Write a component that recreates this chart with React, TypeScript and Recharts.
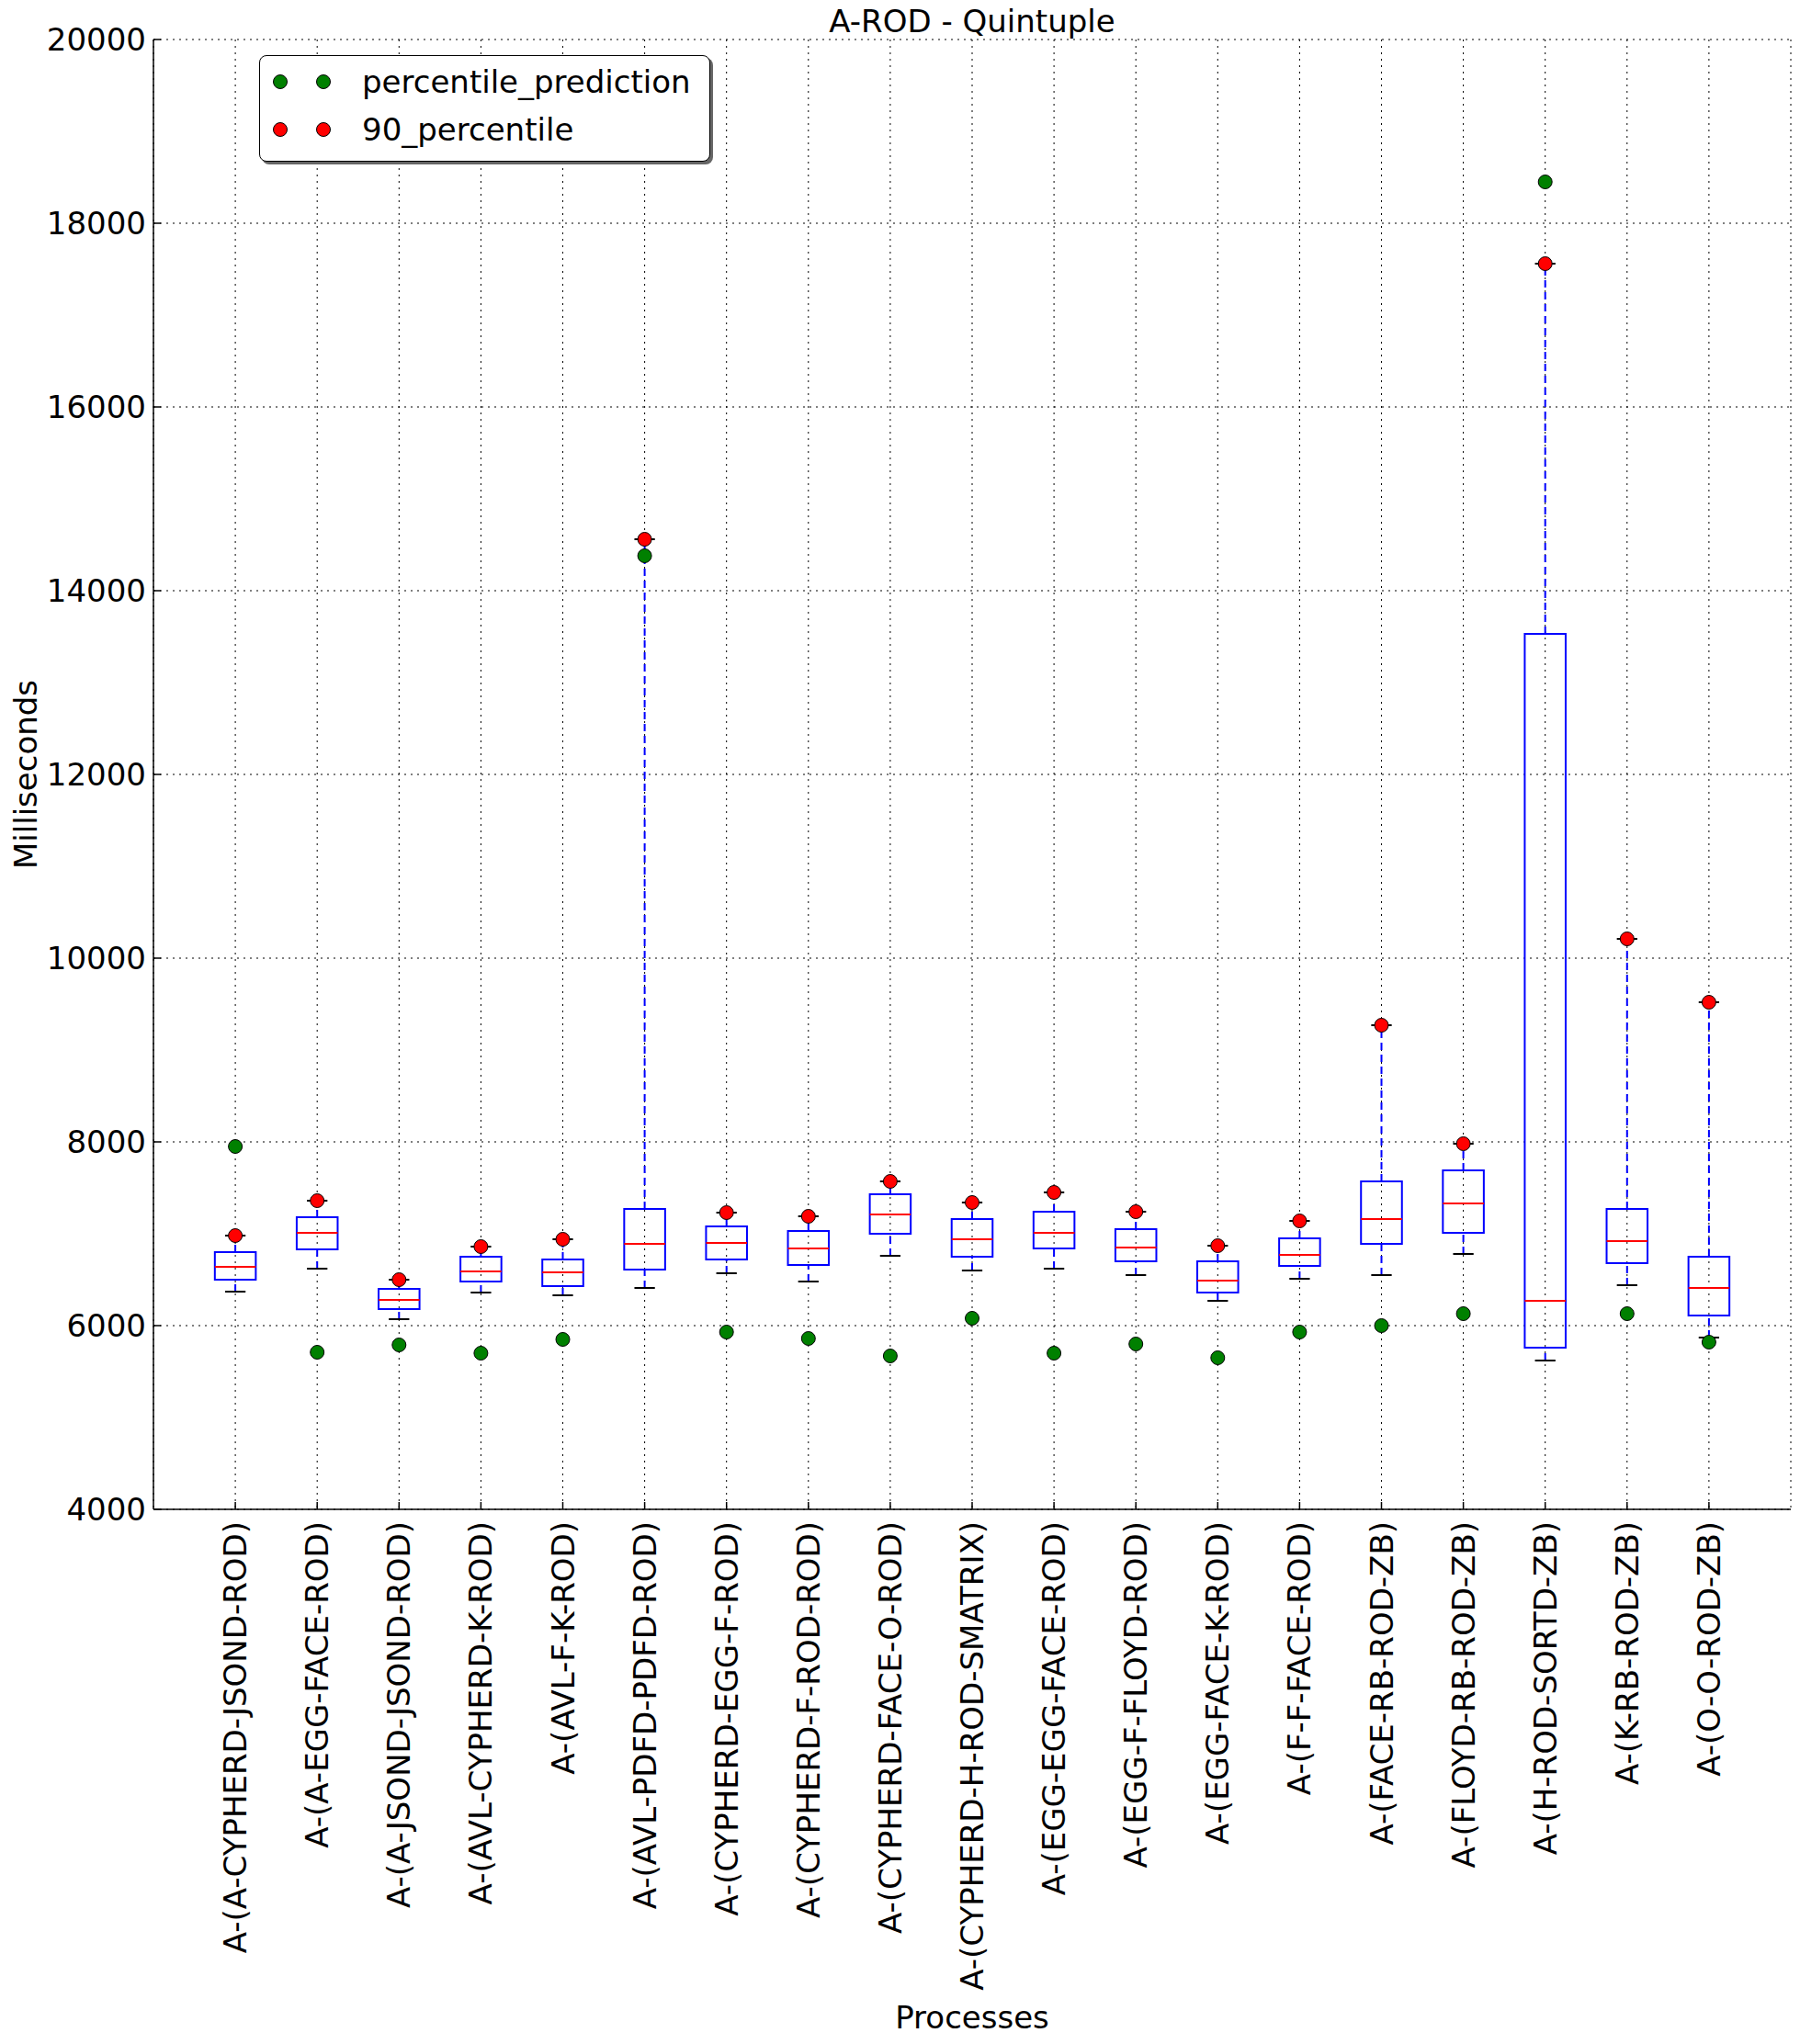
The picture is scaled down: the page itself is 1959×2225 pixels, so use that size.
import React from 'react';
import {
  ComposedChart, Scatter, XAxis, YAxis, CartesianGrid, ReferenceArea, ReferenceLine, Legend, Label,
} from 'recharts';

const categories = [
  'A-(A-CYPHERD-JSOND-ROD)', 'A-(A-EGG-FACE-ROD)', 'A-(A-JSOND-JSOND-ROD)', 'A-(AVL-CYPHERD-K-ROD)',
  'A-(AVL-F-K-ROD)', 'A-(AVL-PDFD-PDFD-ROD)', 'A-(CYPHERD-EGG-F-ROD)', 'A-(CYPHERD-F-ROD-ROD)',
  'A-(CYPHERD-FACE-O-ROD)', 'A-(CYPHERD-H-ROD-SMATRIX)', 'A-(EGG-EGG-FACE-ROD)', 'A-(EGG-F-FLOYD-ROD)',
  'A-(EGG-FACE-K-ROD)', 'A-(F-F-FACE-ROD)', 'A-(FACE-RB-ROD-ZB)', 'A-(FLOYD-RB-ROD-ZB)',
  'A-(H-ROD-SORTD-ZB)', 'A-(K-RB-ROD-ZB)', 'A-(O-O-ROD-ZB)',
];

// box plot stats (ms)
const whiskerLow = [6370, 6620, 6070, 6360, 6330, 6410, 6570, 6480, 6760, 6600, 6620, 6550, 6270, 6510, 6550, 6780, 5620, 6440, 5870];
const q1 = [6500, 6830, 6180, 6480, 6430, 6610, 6720, 6660, 7000, 6750, 6840, 6700, 6360, 6650, 6890, 7010, 5760, 6680, 6110];
const median = [6640, 7010, 6280, 6590, 6580, 6890, 6900, 6840, 7210, 6940, 7010, 6850, 6490, 6770, 7160, 7330, 6270, 6920, 6410];
const q3 = [6800, 7180, 6400, 6750, 6720, 7270, 7080, 7030, 7430, 7160, 7240, 7050, 6700, 6950, 7570, 7690, 13530, 7270, 6750];
const whiskerHigh = [6980, 7360, 6500, 6860, 6940, 14560, 7230, 7190, 7570, 7340, 7450, 7240, 6870, 7140, 9270, 7980, 17560, 10210, 9520];

// markers
const percentilePrediction = [7950, 5710, 5790, 5700, 5850, 14380, 5930, 5860, 5670, 6080, 5700, 5800, 5650, 5930, 6000, 6130, 18450, 6130, 5820];
const percentile90 = [6980, 7360, 6500, 6860, 6940, 14560, 7230, 7190, 7570, 7340, 7450, 7240, 6870, 7140, 9270, 7980, 17560, 10210, 9520];

const yTicks = [4000, 6000, 8000, 10000, 12000, 14000, 16000, 18000, 20000];
const xTicks = categories.map((_, i) => i + 1);

const predData = percentilePrediction.map((y, i) => ({ x: i + 1, y }));
const p90Data = percentile90.map((y, i) => ({ x: i + 1, y }));

const FONT = '"DejaVu Sans", sans-serif';
const FS = 34;
const BOX_HALF = 0.25;
const CAP_HALF = 0.125;

const legendItems = [
  { name: 'percentile_prediction', color: '#008000' },
  { name: '90_percentile', color: '#ff0000' },
];

const XTick = (props: any) => {
  const { x, y, payload } = props;
  return (
    <text x={x} y={y} transform={`rotate(-90 ${x} ${y})`} textAnchor="end" dominantBaseline="central"
      fontSize={FS} fontFamily={FONT} fill="#000">
      {categories[payload.value - 1]}
    </text>
  );
};

const dot = (color: string) => (props: any) => (
  <circle cx={props.cx} cy={props.cy} r={7.5} fill={color} stroke="#000" strokeWidth={1} />
);

const renderLegend = () => (
  <div style={{ width: 491, height: 116, border: '1.5px solid #000', borderRadius: 8, background: '#fff',
    boxShadow: '3px 3px 0 #666', boxSizing: 'border-box' }}>
    <svg width={488} height={113} style={{ display: 'block' }}>
      {legendItems.map((it, i) => (
        <g key={it.name}>
          <circle cx={22} cy={28 + i * 52} r={7.5} fill={it.color} stroke="#000" />
          <circle cx={69} cy={28 + i * 52} r={7.5} fill={it.color} stroke="#000" />
          <text x={111} y={28 + i * 52} dominantBaseline="central" fontSize={FS} fontFamily={FONT} fill="#000">{it.name}</text>
        </g>
      ))}
    </svg>
  </div>
);

export default function App() {
  return (
    <div style={{ position: 'absolute', left: 0, top: 0, width: 1959, height: 2225, background: '#fff' }}>
      <div style={{ position: 'absolute', left: 167, top: 0, width: 1782, textAlign: 'center', fontFamily: FONT,
        fontSize: FS, lineHeight: '46px', color: '#000', zIndex: 2 }}>
        A-ROD - Quintuple
      </div>
      <ComposedChart width={1959} height={2225} margin={{ top: 43, right: 10, bottom: 0, left: 0 }}>
        <CartesianGrid stroke="#000" strokeDasharray="2 5" strokeWidth={1} />
        <XAxis dataKey="x" type="number" domain={[0, 20]} ticks={xTicks} interval={0} height={582}
          tick={<XTick />} tickSize={-8} tickMargin={21} stroke="#000" strokeWidth={1.5} allowDataOverflow>
          <Label content={(p: any) => {
            const vb = p.viewBox;
            return (
              <text x={vb.x + vb.width / 2} y={vb.y + 553} textAnchor="middle" dominantBaseline="central"
                fontSize={FS} fontFamily={FONT} fill="#000">Processes</text>
            );
          }} />
        </XAxis>
        <XAxis xAxisId="top" orientation="top" type="number" domain={[0, 20]} ticks={xTicks} interval={0}
          height={0} tick={false} tickSize={-8} stroke="#000" strokeWidth={1.5} allowDataOverflow />
        <YAxis dataKey="y" type="number" domain={[4000, 20000]} ticks={yTicks} interval={0} width={167}
          tickSize={-8} tickMargin={16} stroke="#000" strokeWidth={1.5} allowDataOverflow
          tick={{ fontSize: FS, fontFamily: FONT, fill: '#000' }}>
          <Label content={(p: any) => {
            const vb = p.viewBox;
            const cx = 28;
            const cy = vb.y + vb.height / 2;
            return (
              <text x={cx} y={cy} transform={`rotate(-90 ${cx} ${cy})`} textAnchor="middle" dominantBaseline="central"
                fontSize={FS} fontFamily={FONT} fill="#000">Milliseconds</text>
            );
          }} />
        </YAxis>
        <YAxis yAxisId="right" orientation="right" type="number" domain={[4000, 20000]} ticks={yTicks} interval={0}
          width={0} tick={false} tickSize={-8} stroke="#000" strokeWidth={1.5} allowDataOverflow />

        {categories.map((c, i) => {
          const x = i + 1;
          return (
            <React.Fragment key={c}>
              <ReferenceLine segment={[{ x, y: q3[i] }, { x, y: whiskerHigh[i] }]} stroke="#0000ff" strokeWidth={2} strokeDasharray="8 5" />
              <ReferenceLine segment={[{ x, y: whiskerLow[i] }, { x, y: q1[i] }]} stroke="#0000ff" strokeWidth={2} strokeDasharray="8 5" />
              <ReferenceLine segment={[{ x: x - CAP_HALF, y: whiskerHigh[i] }, { x: x + CAP_HALF, y: whiskerHigh[i] }]} stroke="#000" strokeWidth={2} />
              <ReferenceLine segment={[{ x: x - CAP_HALF, y: whiskerLow[i] }, { x: x + CAP_HALF, y: whiskerLow[i] }]} stroke="#000" strokeWidth={2} />
              <ReferenceArea x1={x - BOX_HALF} x2={x + BOX_HALF} y1={q1[i]} y2={q3[i]} fill="none" fillOpacity={0}
                stroke="#0000ff" strokeWidth={2} strokeOpacity={1} />
              <ReferenceLine segment={[{ x: x - BOX_HALF, y: median[i] }, { x: x + BOX_HALF, y: median[i] }]} stroke="#ff0000" strokeWidth={2} />
            </React.Fragment>
          );
        })}

        <Scatter name="percentile_prediction" data={predData} fill="#008000" shape={dot('#008000')} isAnimationActive={false} />
        <Scatter name="90_percentile" data={p90Data} fill="#ff0000" shape={dot('#ff0000')} isAnimationActive={false} />

        <Legend layout="vertical" align="center" verticalAlign="middle" content={renderLegend}
          wrapperStyle={{ left: 282, top: 60, width: 491, height: 116 }} />
      </ComposedChart>
    </div>
  );
}
